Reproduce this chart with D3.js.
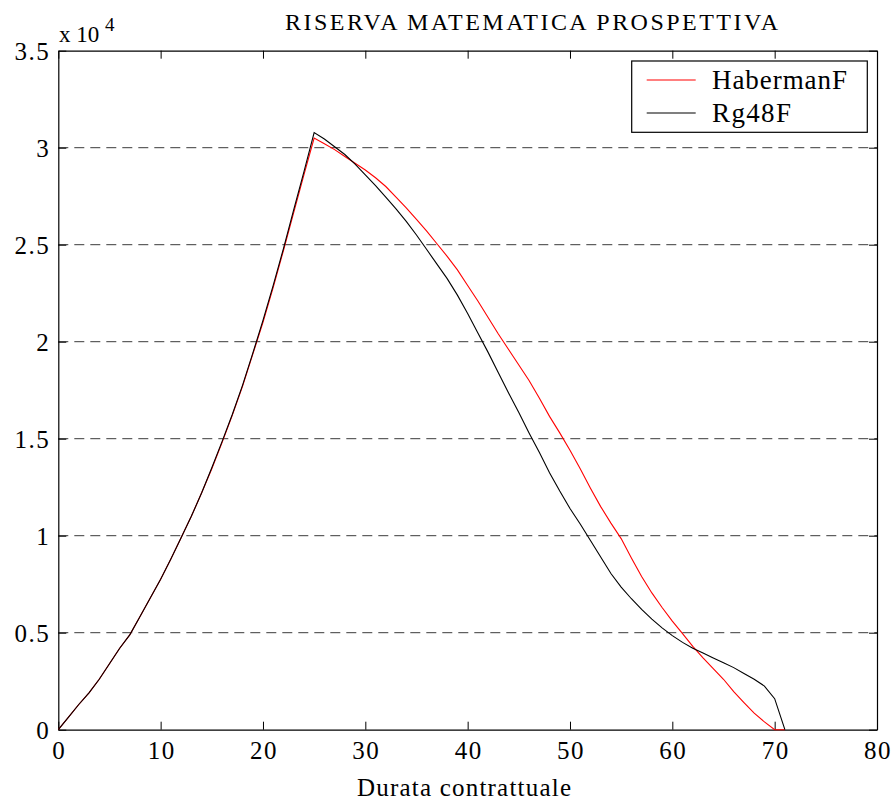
<!DOCTYPE html>
<html>

<head>
    <meta charset="utf-8">
    <title>Riserva matematica prospettiva</title>
    <script src="https://d3js.org/d3.v7.min.js"></script>
    <style>
        html,
        body {
            margin: 0;
            padding: 0;
            background: white;
        }

        text {
            font-family: 'Liberation Serif', 'Times New Roman', serif;
            fill: black;
        }
    </style>
</head>

<body>

    <div id="chart"></div>

    <script>
        // durata contrattuale (anni)
        const durata = d3.range(0, 72);

        // riserva in unita' di 10^4
        const habermanF = [
            0, 0.065, 0.13, 0.19, 0.26, 0.34, 0.42, 0.49, 0.585, 0.68,
            0.775, 0.88, 0.99, 1.10, 1.22, 1.345, 1.48, 1.62, 1.77, 1.935,
            2.10, 2.28, 2.47, 2.665, 2.86, 3.05, 3.02, 2.99, 2.955, 2.92,
            2.885, 2.845, 2.80, 2.745, 2.69, 2.63, 2.57, 2.505, 2.44, 2.37,
            2.29, 2.21, 2.125, 2.04, 1.96, 1.88, 1.80, 1.71, 1.615, 1.53,
            1.44, 1.345, 1.245, 1.15, 1.065, 0.985, 0.885, 0.79, 0.705, 0.63,
            0.56, 0.495, 0.43, 0.37, 0.315, 0.26, 0.196, 0.14, 0.085, 0.04,
            0, 0
        ];

        const rg48F = [
            0, 0.065, 0.13, 0.19, 0.26, 0.34, 0.42, 0.49, 0.585, 0.68,
            0.775, 0.88, 0.99, 1.10, 1.22, 1.35, 1.485, 1.625, 1.775, 1.94,
            2.11, 2.29, 2.48, 2.68, 2.875, 3.078, 3.045, 3.005, 2.965, 2.915,
            2.86, 2.805, 2.745, 2.685, 2.62, 2.55, 2.475, 2.40, 2.325, 2.24,
            2.145, 2.045, 1.945, 1.84, 1.735, 1.635, 1.53, 1.43, 1.325, 1.23,
            1.14, 1.06, 0.975, 0.89, 0.805, 0.735, 0.675, 0.62, 0.57, 0.525,
            0.485, 0.45, 0.42, 0.395, 0.37, 0.345, 0.32, 0.29, 0.26, 0.225,
            0.16, 0
        ];

        const xTicks = [0, 10, 20, 30, 40, 50, 60, 70, 80];
        const yTicks = [0, 0.5, 1, 1.5, 2, 2.5, 3, 3.5];
        const yGrid = [0.5, 1, 1.5, 2, 2.5, 3];

        const seriesNames = ["HabermanF", "Rg48F"];
        const seriesColors = ["#ff0000", "#000000"];

        var margin = { top: 50.7, right: 14, bottom: 70.3, left: 58.3 },
            width = 891 - margin.left - margin.right,
            height = 800 - margin.top - margin.bottom;

        var svg = d3.select("#chart")
            .append("svg")
            .attr("width", 891)
            .attr("height", 800);

        var g = svg.append("g")
            .attr("transform", `translate(${margin.left},${margin.top})`);

        var x = d3.scaleLinear().domain([0, 80]).range([0, width]);
        var y = d3.scaleLinear().domain([0, 3.5]).range([height, 0]);

        // dashed grid
        g.selectAll("line.grid")
            .data(yGrid)
            .enter()
            .append("line")
            .attr("class", "grid")
            .attr("x1", 0)
            .attr("x2", width)
            .attr("y1", d => y(d))
            .attr("y2", d => y(d))
            .attr("stroke", "#3a3a3a")
            .attr("stroke-width", 1)
            .attr("stroke-dasharray", "10,6");

        // axes with inward ticks on all four sides
        const tickLen = 8;
        g.append("g")
            .attr("transform", `translate(0,${height})`)
            .call(d3.axisBottom(x).tickValues(xTicks).tickSize(-tickLen).tickSizeOuter(0).tickFormat(""));
        g.append("g")
            .call(d3.axisTop(x).tickValues(xTicks).tickSize(-tickLen).tickSizeOuter(0).tickFormat(""));
        g.append("g")
            .call(d3.axisLeft(y).tickValues(yTicks).tickSize(-tickLen).tickSizeOuter(0).tickFormat(""));
        g.append("g")
            .attr("transform", `translate(${width},0)`)
            .call(d3.axisRight(y).tickValues(yTicks).tickSize(-tickLen).tickSizeOuter(0).tickFormat(""));

        g.selectAll(".domain").attr("stroke", "black").attr("stroke-width", 1.2);
        g.selectAll(".tick line").attr("stroke", "black");

        // tick labels
        g.selectAll("text.xlab")
            .data(xTicks)
            .enter()
            .append("text")
            .attr("class", "xlab")
            .attr("x", d => x(d) + 1)
            .attr("y", height + 29.5)
            .attr("text-anchor", "middle")
            .style("font-size", "25px")
            .style("letter-spacing", "1.5px")
            .text(d => d);

        g.selectAll("text.ylab")
            .data(yTicks)
            .enter()
            .append("text")
            .attr("class", "ylab")
            .attr("x", -8)
            .attr("y", d => y(d) + 9.5)
            .attr("text-anchor", "end")
            .style("font-size", "25px")
            .style("letter-spacing", "1.5px")
            .text(d => d);

        // exponent label
        svg.append("text")
            .attr("x", 59)
            .attr("y", 42)
            .style("font-size", "23px")
            .text("x 10");
        svg.append("text")
            .attr("x", 105)
            .attr("y", 31)
            .style("font-size", "19px")
            .text("4");

        // title
        svg.append("text")
            .attr("x", 285)
            .attr("y", 30)
            .style("font-size", "24px")
            .attr("textLength", 493)
            .attr("lengthAdjust", "spacing")
            .text("RISERVA MATEMATICA PROSPETTIVA");

        // x label
        svg.append("text")
            .attr("x", 357)
            .attr("y", 796)
            .style("font-size", "25px")
            .attr("textLength", 214)
            .attr("lengthAdjust", "spacing")
            .text("Durata contrattuale");

        // lines
        const line = d3.line()
            .x((d, i) => x(durata[i]))
            .y(d => y(d));

        [habermanF, rg48F].forEach((vals, i) => {
            g.append("path")
                .datum(vals)
                .attr("fill", "none")
                .attr("stroke", seriesColors[i])
                .attr("stroke-width", 1.1)
                .attr("d", line);
        });

        // legend
        const legend = svg.append("g");
        legend.append("rect")
            .attr("x", 631.7)
            .attr("y", 61)
            .attr("width", 235.6)
            .attr("height", 71.3)
            .attr("fill", "white")
            .attr("stroke", "black")
            .attr("stroke-width", 1.2);

        const legendLen = [135, 79];
        seriesNames.forEach((name, i) => {
            const entry = legend.append("g")
                .attr("transform", `translate(0, ${i * 33})`);
            entry.append("line")
                .attr("x1", 646.7)
                .attr("x2", 695.7)
                .attr("y1", 80)
                .attr("y2", 80)
                .attr("stroke", seriesColors[i])
                .attr("stroke-width", 1.1);
            entry.append("text")
                .attr("x", 712)
                .attr("y", 89)
                .style("font-size", "27px")
                .attr("textLength", legendLen[i])
                .attr("lengthAdjust", "spacing")
                .text(name);
        });
    </script>
</body>

</html>
